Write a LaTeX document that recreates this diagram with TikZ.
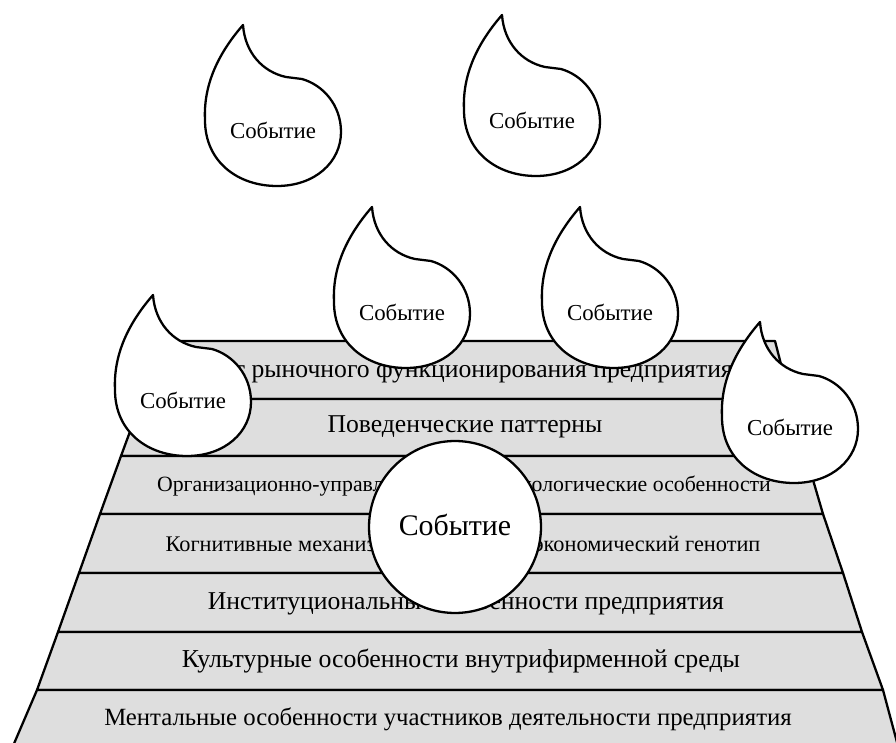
\documentclass[tikz,border=0pt]{standalone}
\usepackage{fontspec}
\setmainfont{Liberation Serif}
\definecolor{bandgray}{gray}{0.87}
\tikzset{
	band/.style={draw, fill=bandgray, line width=1.3pt, line join=round},
	event/.style={draw, fill=white, line width=1.3pt, line join=round},
	drop/.pic={
		\draw[event] (-30,-105) .. controls (-50,-82) and (-70,-50) .. (-68,-10)
			.. controls (-68,32) and (-35,56) .. (4,56)
			.. controls (42,56) and (68,32) .. (68,2)
			.. controls (68,-25) and (50,-45) .. (29,-51) -- (13,-53)
			.. controls (-10,-58) and (-28,-77) .. (-30,-105) -- cycle;
		\node[font=\fontsize{13}{15}\selectfont] (-label) at (0,0) {Событие};
	}
}
\begin{document}
\begin{tikzpicture}[x=0.02cm, y=-0.02cm]
	\clip (0,0) rectangle (896,743);

	% слои
	\foreach \i/\ya/\yb/\la/\lb/\ra/\rb in {1/341/399/163/142/775/790, 2/399/456/142/121/790/806,
		3/456/514/121/100/806/823, 4/514/573/100/79/823/843, 5/573/632/79/58/843/862,
		6/632/690/58/37/862/883, 7/690/746/37/13/883/898} {
		\draw[band] (\la,\ya) -- (\ra,\ya) -- (\rb,\yb) -- (\lb,\yb) -- cycle;
	}
	\node[font=\fontsize{14.6}{17}\selectfont, anchor=east] (layer1) at (739,371) {Результат рыночного функционирования предприятия};
	\node[font=\fontsize{14.6}{17}\selectfont] (layer2) at (465,427) {Поведенческие паттерны};
	\node[font=\fontsize{12.4}{15}\selectfont] (layer3) at (464,486) {Организационно-управленческие и технологические особенности};
	\node[font=\fontsize{12.7}{15}\selectfont] (layer4) at (463,546) {Когнитивные механизмы и социально-экономический генотип};
	\node[font=\fontsize{14.6}{17}\selectfont] (layer5) at (466,603) {Институциональные особенности предприятия};
	\node[font=\fontsize{14.7}{17}\selectfont] (layer6) at (461,661) {Культурные особенности внутрифирменной среды};
	\node[font=\fontsize{14.1}{17}\selectfont] (layer7) at (448,719) {Ментальные особенности участников деятельности предприятия};

	% события
	\pic (ev1) at (273,130) {drop};
	\pic (ev2) at (532,120) {drop};
	\pic (ev3) at (402,312) {drop};
	\pic (ev4) at (610,312) {drop};
	\pic (ev5) at (183,400) {drop};
	\pic (ev6) at (790,427) {drop};
	\node[event, circle, minimum size=3.44cm, inner sep=0pt] (ev7) at (455,527) {};
	\node[font=\fontsize{17}{20}\selectfont] (ev7-label) at (455,525) {Событие};
\end{tikzpicture}
\end{document}
